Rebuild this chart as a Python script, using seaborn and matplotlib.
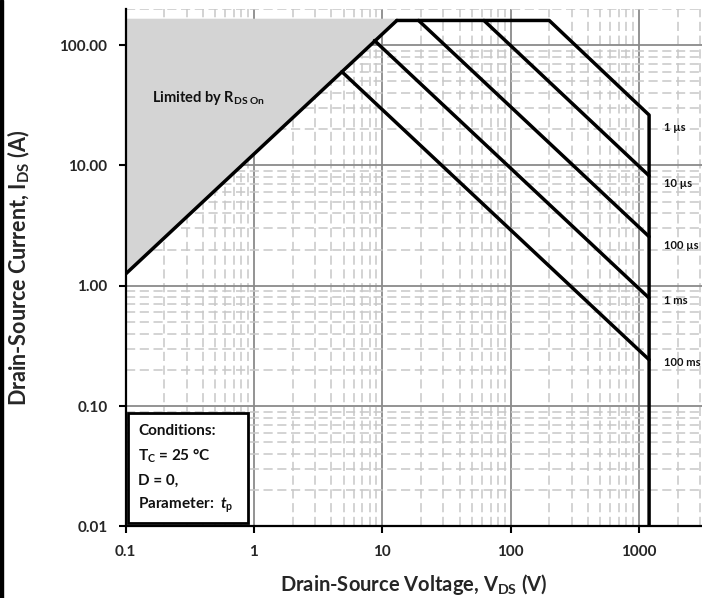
import numpy as np
import pandas as pd
import matplotlib
matplotlib.use("Agg")
import matplotlib.pyplot as plt
import seaborn as sns
from matplotlib.patches import Rectangle

# data (V in volts, I in amps)
rds_v = [0.1, 13.0]
rds_i = [1.25, 160.0]

curve_names = ["1 µs", "10 µs", "100 µs", "1 ms", "100 ms"]
curve_v = [
    [13.0, 200.0, 1200.0, 1200.0],
    [62.0, 1200.0],
    [19.2, 1200.0],
    [8.7, 1200.0],
    [4.85, 1200.0],
]
curve_i = [
    [160.0, 160.0, 26.2, 0.01],
    [160.0, 8.2],
    [160.0, 2.56],
    [109.0, 0.79],
    [60.0, 0.243],
]
label_i = [20.8, 7.1, 2.18, 0.76, 0.229]

x_ticks = [0.1, 1, 10, 100, 1000]
x_ticklabels = ["0.1", "1", "10", "100", "1000"]
y_ticks = [0.01, 0.1, 1, 10, 100]
y_ticklabels = ["0.01", "0.10", "1.00", "10.00", "100.00"]

sns.set_theme(style="white")
plt.rcParams["font.family"] = ["Lato", "DejaVu Sans"]
plt.rcParams["font.weight"] = "bold"
plt.rcParams["mathtext.fontset"] = "custom"
plt.rcParams["mathtext.rm"] = "Lato:bold"
plt.rcParams["mathtext.bf"] = "Lato:bold"
plt.rcParams["mathtext.it"] = "Lato:italic:bold"

fig = plt.figure(figsize=(7.02, 5.98), dpi=100)
ax = fig.add_axes([0.1788, 0.1196, 0.8212, 0.8657])
ax.set_xscale("log")
ax.set_yscale("log")
ax.set_xlim(0.1, 3100)
ax.set_ylim(0.01, 200)

# grid
ax.grid(True, which="major", color="#8a8a8a", lw=1.3, ls="-")
ax.grid(True, which="minor", color="#c8c8c8", lw=1.1, ls=(0, (6, 3)))
ax.set_axisbelow(True)

# shaded RDS(on)-limited region
ax.fill_between(np.array(rds_v), np.array(rds_i), 167, color="#d4d4d4", zorder=1, lw=0)

sns.lineplot(x=rds_v, y=rds_i, color="black", lw=2.5, sort=False, estimator=None, ax=ax, zorder=3)
for v, i in zip(curve_v, curve_i):
    sns.lineplot(x=v, y=i, color="black", lw=2.5, sort=False, estimator=None, ax=ax, zorder=3)

for name, yi in zip(curve_names, label_i):
    ax.text(1560, yi, name, fontsize=8, fontweight="bold", va="center", ha="left", color="#111")

ax.text(0.16, 36, r"Limited by R$_{\mathbf{DS\ On}}$", fontsize=10.5, fontweight="bold",
        va="center", ha="left", color="#111")

# conditions box
ax.add_patch(Rectangle((0.004, 0.007), 0.209, 0.212, transform=ax.transAxes,
                       fill=True, fc="white", ec="black", lw=2, zorder=4))
cond = ["Conditions:", r"T$_\mathrm{C}$ = 25 °C", "D = 0,", r"Parameter:  $\mathit{t}_\mathrm{p}$"]
for k, line in enumerate(cond):
    ax.text(0.022, 0.185 - k * 0.048, line, transform=ax.transAxes, fontsize=11,
            fontweight="bold", va="center", ha="left", color="#111", zorder=5)

ax.set_xticks(x_ticks)
ax.set_xticklabels(x_ticklabels)
ax.set_yticks(y_ticks)
ax.set_yticklabels(y_ticklabels)
ax.xaxis.set_minor_locator(matplotlib.ticker.LogLocator(base=10, subs=np.arange(2, 10)))
ax.yaxis.set_minor_locator(matplotlib.ticker.LogLocator(base=10, subs=np.arange(2, 10)))
ax.xaxis.set_minor_formatter(matplotlib.ticker.NullFormatter())
ax.yaxis.set_minor_formatter(matplotlib.ticker.NullFormatter())
ax.tick_params(which="major", direction="out", length=5, width=1.5, color="black",
               labelsize=11, pad=8, left=True, bottom=True)
ax.tick_params(which="minor", length=0)
for lab in ax.get_xticklabels() + ax.get_yticklabels():
    lab.set_fontweight("bold")

for s in ["top", "right"]:
    ax.spines[s].set_visible(False)
for s in ["left", "bottom"]:
    ax.spines[s].set_color("black")
    ax.spines[s].set_linewidth(1.6)

ax.set_xlabel(r"Drain-Source Voltage, V$_{\mathbf{DS}}$ (V)", fontsize=14.5, fontweight="bold", labelpad=10)
ax.set_ylabel(r"Drain-Source Current, I$_{\mathbf{DS}}$ (A)", fontsize=15.5, fontweight="bold", labelpad=20)

fig.add_artist(Rectangle((0, 0), 0.004, 1, transform=fig.transFigure, color="black"))

fig.savefig("out.png", dpi=100)
